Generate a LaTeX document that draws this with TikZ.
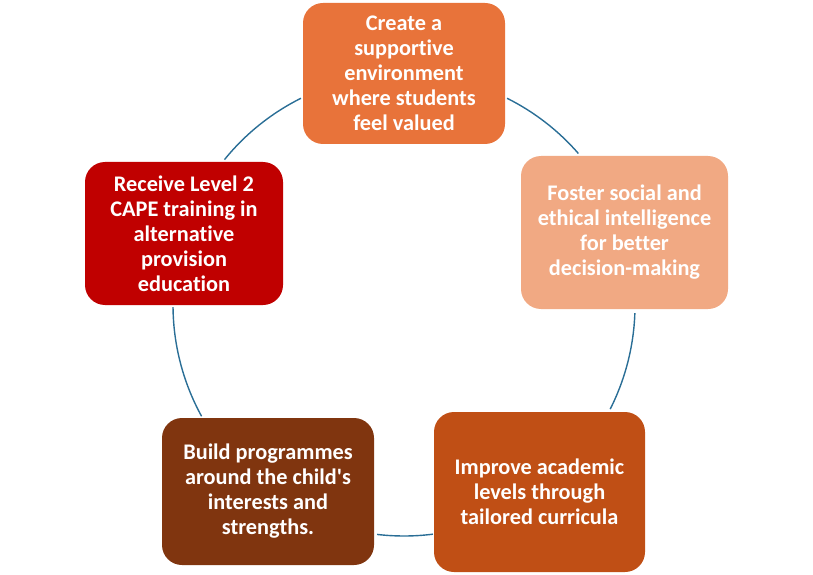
\documentclass[tikz,border=0pt]{standalone}
\usepackage{fontspec}
\setmainfont[Ligatures={TeXOff,CommonOff,ContextualOff},RawFeature={-liga;-clig;-calt}]{Carlito}
\definecolor{cA}{HTML}{E8733A}
\definecolor{cB}{HTML}{F1A983}
\definecolor{cC}{HTML}{C04F15}
\definecolor{cD}{HTML}{80350F}
\definecolor{cE}{HTML}{C00000}
\definecolor{ringblue}{HTML}{2A6E96}
\begin{document}
\begin{tikzpicture}[x=1pt,y=1pt,
  box/.style={rounded corners=20pt, draw=none, text=white,
    font=\bfseries\fontsize{22.3}{25}\selectfont, align=center, inner sep=0pt},
  ring/.style={draw=ringblue, line width=1.4pt}]
\useasboundingbox (0,0) rectangle (813,574);
\coordinate (c) at (404,269);
\draw[ring] ([shift={(116.5:231)}]c) arc[start angle=116.5,end angle=141,radius=231];
\draw[ring] ([shift={(180.5:231)}]c) arc[start angle=180.5,end angle=208.8,radius=231];
\draw[ring] ([shift={(263.3:231)}]c) arc[start angle=263.3,end angle=277.2,radius=231];
\draw[ring] ([shift={(-2:231)}]c) arc[start angle=-2,end angle=-26.8,radius=231];
\draw[ring] ([shift={(63.5:231)}]c) arc[start angle=63.5,end angle=41,radius=231];
\node[box, fill=cA, minimum width=202pt, minimum height=141pt] (b1) at (404,500.5)
  {Create a\\supportive\\environment\\where students\\feel valued};
\node[box, fill=cB, minimum width=207pt, minimum height=153pt] (b2) at (624.5,341.5)
  {Foster social and\\ethical intelligence\\for better\\decision-making};
\node[box, fill=cC, minimum width=211pt, minimum height=160pt] (b3) at (539.5,82)
  {Improve academic\\levels through\\tailored curricula};
\node[box, fill=cD, minimum width=212pt, minimum height=147pt] (b4) at (268,82.5)
  {Build programmes\\around the child\textquotesingle s\\interests and\\strengths.};
\node[box, fill=cE, minimum width=198pt, minimum height=143pt] (b5) at (184,340.5)
  {Receive Level 2\\CAPE training in\\alternative\\provision\\education};
\end{tikzpicture}
\end{document}
